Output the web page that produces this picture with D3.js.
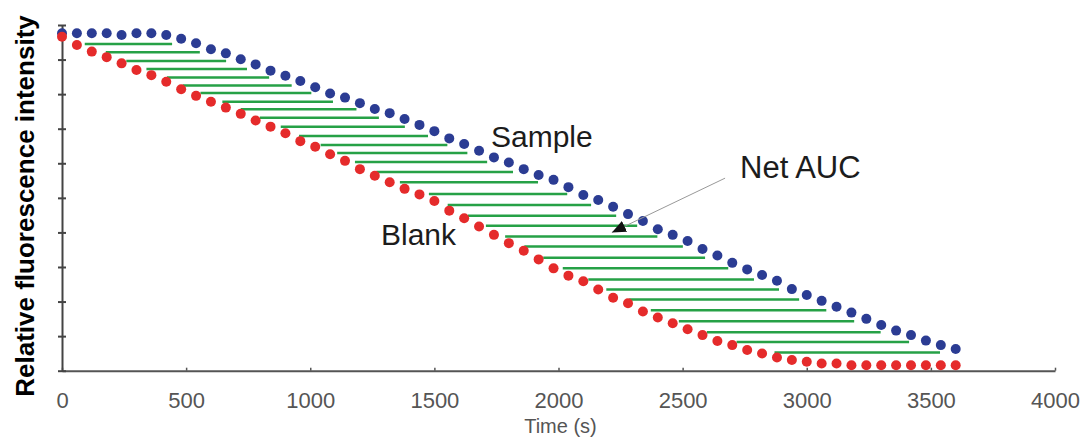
<!DOCTYPE html>
<html>
<head>
<meta charset="utf-8">
<script src="https://cdn.jsdelivr.net/npm/d3@7"></script>
<style>
  body { margin: 0; background: #fff; }
</style>
</head>
<body>
<div class="chart"></div>
<script>
// time points (s), one reading per minute
var times = [0, 60, 120, 180, 240, 300, 360, 420, 480, 540,
  600, 660, 720, 780, 840, 900, 960, 1020, 1080, 1140,
  1200, 1260, 1320, 1380, 1440, 1500, 1560, 1620, 1680, 1740,
  1800, 1860, 1920, 1980, 2040, 2100, 2160, 2220, 2280, 2340,
  2400, 2460, 2520, 2580, 2640, 2700, 2760, 2820, 2880, 2940,
  3000, 3060, 3120, 3180, 3240, 3300, 3360, 3420, 3480, 3540, 3600];

// relative fluorescence (% of axis height)
var sample = [97.6, 97.6, 97.6, 97.6, 97.1, 97.6, 97.6, 97.1, 96.0, 94.7,
  93.0, 91.8, 90.1, 88.6, 86.8, 85.3, 83.8, 82.0, 80.2, 79.0,
  77.4, 75.7, 74.5, 72.8, 71.1, 69.3, 67.2, 65.6, 63.6, 61.7,
  60.2, 58.3, 56.6, 55.2, 53.1, 50.8, 49.4, 47.4, 45.3, 43.3,
  40.9, 39.3, 37.5, 35.2, 33.3, 31.2, 29.3, 27.7, 26.0, 23.6,
  21.9, 20.2, 18.5, 16.8, 15.0, 13.2, 11.6, 10.3, 8.7, 7.4, 6.3];

var blank = [96.6, 94.2, 92.3, 90.7, 88.9, 87.0, 85.5, 83.6, 81.4, 79.5,
  77.8, 76.1, 74.3, 72.4, 70.6, 68.7, 66.4, 64.8, 62.6, 60.7,
  58.3, 56.4, 54.5, 52.6, 51.0, 49.1, 46.3, 44.1, 41.7, 39.3,
  36.9, 34.7, 32.2, 29.6, 27.5, 25.9, 23.5, 21.1, 19.5, 17.1,
  15.4, 13.7, 12.0, 10.3, 8.6, 7.4, 6.0, 5.0, 3.8, 3.1,
  2.6, 2.1, 2.1, 1.6, 1.6, 1.6, 1.6, 1.6, 1.6, 1.6, 1.6];

// levels of the green hatch lines (net AUC)
var hatchLevels = [94.5, 92.1, 89.6, 87.3, 84.8, 82.5, 80.3, 77.8, 75.6, 73.2,
  70.6, 67.9, 65.3, 63.0, 60.4, 57.5, 54.5, 51.1, 47.9, 44.8,
  41.9, 38.8, 35.9, 32.7, 29.6, 26.4, 23.5, 20.6, 17.5, 14.3,
  11.1, 8.3, 5.3];

var xTicks = [0, 500, 1000, 1500, 2000, 2500, 3000, 3500, 4000];
var yTicks = [0, 10, 20, 30, 40, 50, 60, 70, 80, 90, 100];

// annotation arrow, in data units: [time, value]
var arrowFrom = [2671, 55.7];
var arrowTo = [2215, 40.0];

var svgWidth = 1083;
var svgHeight = 446;

var margin = { top: 25, right: 28, bottom: 75.3, left: 62 };
var width = svgWidth - margin.left - margin.right;
var height = svgHeight - margin.top - margin.bottom;

var svg = d3.select(".chart")
  .append("svg")
  .attr("width", svgWidth)
  .attr("height", svgHeight);

var x = d3.scaleLinear().domain([0, 4000]).range([margin.left, margin.left + width]);
var y = d3.scaleLinear().domain([0, 100]).range([margin.top + height, margin.top]);

var sampleColor = "#2b3c93";
var blankColor = "#e52b2b";
var hatchColor = "#26a146";

// pixel points of each curve
var samplePts = times.map((t, i) => [x(t), y(sample[i])]);
var blankPts = times.map((t, i) => [x(t), y(blank[i])]);

// x where a curve passes a given pixel height
function crossX(pts, target) {
  for (var i = 0; i < pts.length - 1; i++) {
    var a = pts[i], b = pts[i + 1];
    if ((a[1] - target) * (b[1] - target) <= 0 && a[1] !== b[1]) {
      return a[0] + (target - a[1]) / (b[1] - a[1]) * (b[0] - a[0]);
    }
  }
  return target < pts[0][1] ? pts[0][0] : pts[pts.length - 1][0];
}

// hatch: each line runs from just past the blank dots to just under the sample dots
svg.append("g")
  .selectAll("line")
  .data(hatchLevels)
  .enter().append("line")
  .attr("x1", d => crossX(blankPts, y(d) + 4.5))
  .attr("x2", d => crossX(samplePts, y(d) - 7.5))
  .attr("y1", d => y(d))
  .attr("y2", d => y(d))
  .attr("stroke", hatchColor)
  .attr("stroke-width", 2.5);

// axes
var xAxis = svg.append("g")
  .attr("transform", `translate(0, ${y(0)})`)
  .call(d3.axisBottom(x).tickValues(xTicks).tickSizeInner(-3).tickSizeOuter(0).tickFormat(d3.format("d")));

xAxis.select(".domain").attr("stroke", "#555").attr("stroke-width", 2);
xAxis.selectAll(".tick line").attr("stroke", "#555").attr("stroke-width", 1.5);
xAxis.selectAll(".tick text")
  .attr("y", 37.6)
  .attr("dy", 0)
  .attr("fill", "#555")
  .attr("font-family", "'Liberation Sans', Arial, sans-serif")
  .attr("font-size", 22);

var yAxis = svg.append("g")
  .attr("transform", `translate(${x(0)}, 0)`)
  .call(d3.axisLeft(y).tickValues(yTicks).tickSizeOuter(0).tickFormat(""));

yAxis.select(".domain").attr("stroke", "#444").attr("stroke-width", 2);
yAxis.selectAll(".tick line")
  .attr("x1", -4)
  .attr("x2", 4)
  .attr("stroke", "#444")
  .attr("stroke-width", 2);

// dots, blank drawn over sample
svg.append("g")
  .selectAll("circle")
  .data(times)
  .enter().append("circle")
  .attr("cx", d => x(d))
  .attr("cy", (d, i) => y(sample[i]))
  .attr("r", 5)
  .attr("fill", sampleColor);

svg.append("g")
  .selectAll("circle")
  .data(times)
  .enter().append("circle")
  .attr("cx", d => x(d))
  .attr("cy", (d, i) => y(blank[i]))
  .attr("r", 5)
  .attr("fill", blankColor);

// axis titles
svg.append("text")
  .attr("x", x(2000) + 2)
  .attr("y", 433)
  .attr("text-anchor", "middle")
  .attr("fill", "#555")
  .attr("font-family", "'Liberation Sans', Arial, sans-serif")
  .attr("font-size", 20)
  .text("Time (s)");

svg.append("text")
  .attr("transform", "translate(34, 206) rotate(-90)")
  .attr("text-anchor", "middle")
  .attr("fill", "#000")
  .attr("font-family", "'Liberation Sans Narrow', 'Liberation Sans', sans-serif")
  .attr("font-weight", "bold")
  .attr("font-size", 26)
  .text("Relative fluorescence intensity");

// curve labels
var labelFont = "'Liberation Sans', Arial, sans-serif";
svg.append("text")
  .attr("x", 491)
  .attr("y", 146.7)
  .attr("fill", "#1c1c1c")
  .attr("font-family", labelFont)
  .attr("font-size", 30)
  .text("Sample");

svg.append("text")
  .attr("x", 381)
  .attr("y", 245)
  .attr("fill", "#1c1c1c")
  .attr("font-family", labelFont)
  .attr("font-size", 30)
  .text("Blank");

svg.append("text")
  .attr("x", 740)
  .attr("y", 178)
  .attr("fill", "#1c1c1c")
  .attr("font-family", labelFont)
  .attr("font-size", 31)
  .text("Net AUC");

// arrow to the hatched area
svg.append("defs").append("marker")
  .attr("id", "arrowhead")
  .attr("markerUnits", "userSpaceOnUse")
  .attr("markerWidth", 18)
  .attr("markerHeight", 14)
  .attr("refX", 14)
  .attr("refY", 6)
  .attr("orient", "auto")
  .append("path")
  .attr("d", "M0,0 L14,6 L0,12 Z")
  .attr("fill", "#111");

svg.append("line")
  .attr("x1", x(arrowFrom[0]))
  .attr("y1", y(arrowFrom[1]))
  .attr("x2", x(arrowTo[0]))
  .attr("y2", y(arrowTo[1]))
  .attr("stroke", "#999")
  .attr("stroke-width", 1)
  .attr("marker-end", "url(#arrowhead)");
</script>
</body>
</html>
